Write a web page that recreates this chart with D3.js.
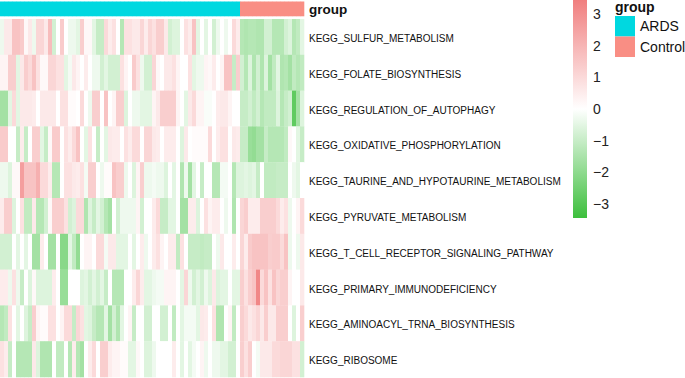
<!DOCTYPE html>
<html>
<head>
<meta charset="utf-8">
<script src="https://cdn.jsdelivr.net/npm/d3@7"></script>
<style>
  body { margin: 0; background: #fff; }
  text { font-family: "Liberation Sans", Arial, sans-serif; }
</style>
</head>
<body>
<svg id="plot" width="685" height="378"></svg>
<script>
// pathways (rows) and their z-scores per sample
var pathways = ["KEGG_SULFUR_METABOLISM", "KEGG_FOLATE_BIOSYNTHESIS", "KEGG_REGULATION_OF_AUTOPHAGY",
  "KEGG_OXIDATIVE_PHOSPHORYLATION", "KEGG_TAURINE_AND_HYPOTAURINE_METABOLISM", "KEGG_PYRUVATE_METABOLISM",
  "KEGG_T_CELL_RECEPTOR_SIGNALING_PATHWAY", "KEGG_PRIMARY_IMMUNODEFICIENCY", "KEGG_AMINOACYL_TRNA_BIOSYNTHESIS",
  "KEGG_RIBOSOME"];

var groupNames = ["ARDS", "Control"];
var groupSizes = [60, 16];
var groupColors = ["#00d8e0", "#f98e84"];

var legendTicks = [-3, -2, -1, 0, 1, 2, 3];

var sulfur = [-0.3,0.6,0.6,1.6,1.6,1.4,0.2,0.6,-0.3,1.1,1.1,0.6,1.8,-0.8,0,1.4,0,-0.3,-0.3,
  -0.5,1.3,0.2,0.2,-0.5,-1.0,-1.0,1.0,0.5,0.8,0,-1.3,0.8,0.8,0.6,0.6,1.1,0.5,1.1,
  0.8,1.3,1.3,0.6,-0.8,-0.6,-0.6,0,0.8,0.5,1.6,-0.5,0,-0.5,0,-0.8,-0.3,0,-0.3,
  0,1.0,0.5,-1.3,-1.4,-1.3,-1.3,-1.4,-1.4,-0.8,-0.8,-1.3,-1.3,-1.3,-0.8,-0.6,-1.3,-1.1,-0.5];
var folate = [0.3,0.3,1.3,1.3,-0.5,0.6,1.3,1.0,1.6,0.8,0.2,0.2,1.1,1.1,0.8,0.8,-0.5,-0.2,0.6,
  0.3,0,0.5,0,-0.3,-0.3,-0.8,-0.5,-0.8,-0.8,-0.8,0.8,0.3,0,1.4,0.8,-0.3,-0.8,-0.8,
  1.1,0.2,0,0.6,0.6,0.8,0.3,0,0,0.8,-0.5,-0.3,-0.3,0.3,0.2,0.5,0,0.3,1.6,
  1.6,-1.0,1.3,-0.8,-1.3,-0.6,-1.4,-0.8,-1.4,-0.6,-1.6,-1.1,-0.5,-1.4,-1.3,-1.6,-1.1,-1.3,-1.1];
var autophagy = [-1.6,-1.6,-0.5,1.0,-0.5,0.6,0.6,0.6,0.5,0,0.6,0.6,0.6,0.6,0,0.8,0.8,0.1,0.1,
  0,1.0,0,-0.3,1.3,1.3,0,1.6,0,0.3,1.3,1.3,-0.6,0,-0.3,-0.3,-0.5,-0.5,-0.5,
  0.3,0.6,1.3,1.3,1.3,1.3,0.3,0,-0.5,0.6,1.0,0.3,0.3,-0.1,-0.1,0,0.5,0.6,0.6,
  0.3,0,0,-1.0,-1.0,-0.8,-1.1,-0.8,-1.3,-1.1,-1.1,-1.1,-0.6,-1.3,-1.0,-0.8,-2.8,-1.6,-0.6];
var oxphos = [1.4,1.4,0,0,-1.0,0.5,-1.0,0,1.3,1.3,-0.5,-1.0,0.2,1.4,1.4,0,0.8,0.5,1.0,
  1.6,0,-0.5,0.8,0,-1.0,0,-0.5,0.6,0.5,0.5,0,0.8,0.5,1.0,1.0,0,1.1,1.1,
  0.6,0.5,0,0.5,0.5,0.5,0,-0.6,0.6,0,0.1,0.1,0.1,0.1,1.0,0,0.5,0.8,0.8,
  0,0.6,0.5,-1.0,-1.0,-1.8,-1.9,-1.6,-1.6,-1.0,-1.3,-1.3,-1.3,-1.3,-1.1,0.2,0,-0.5,-1.0];
var taurine = [-0.3,-0.3,-0.6,0.2,0.2,2.6,1.6,1.6,1.6,2.1,1.0,1.0,0.5,-1.3,-1.3,0,0.8,0.8,0.6,
  0.5,0.8,-0.2,1.3,1.3,0,-0.3,0.1,0.1,1.6,1.3,1.3,-0.3,0,-0.6,0.3,1.3,-0.3,-0.3,
  -0.2,-0.3,-0.3,-0.6,0,-0.5,0,-1.4,-0.3,-1.6,-0.5,0,-1.0,0,0,-1.3,-1.3,-0.2,-0.2,
  0,-1.3,-0.6,-0.6,-0.5,-0.6,-0.5,-1.0,0,-1.1,-1.1,-1.1,-1.0,-1.0,-1.0,0,-0.3,-0.5,0];
var pyruvate = [0.5,1.3,1.3,-0.6,0,0.8,-1.1,-1.1,0.6,-1.3,-1.3,-0.8,0.2,1.3,1.3,1.3,0.8,-0.8,-0.6,
  1.0,1.0,-1.4,-0.6,-1.0,-0.5,-0.8,-1.3,-1.6,0,-0.8,-0.3,-0.3,-0.3,-0.3,0.3,-0.8,0,0,
  0.5,1.0,-1.0,-1.0,-0.5,-0.5,0,-1.6,-1.6,0.5,0.5,-0.6,0,0.8,0.3,0.5,0.5,0,-0.3,
  0,-1.4,0,1.1,1.3,0.5,0.5,0.5,1.3,1.3,1.3,1.3,1.0,0.5,0.8,-0.3,0,0.3,1.0];
var tcell = [-0.8,-0.8,-0.8,0,-0.5,0,-0.5,0,-1.6,-1.6,0.5,0,-1.6,-1.6,0,-2.1,-2.1,-0.5,-1.1,
  -1.9,0,0.3,0.3,0,1.0,1.0,-0.2,0.6,0.6,-0.5,-0.5,-0.5,0,-0.5,0,0.5,-0.3,0,
  0.5,0.8,0.3,0,0.5,0.5,-1.1,0.8,0,-1.0,-1.0,-1.0,-1.1,-1.0,-1.0,0,-0.3,0.6,0,
  0,0.5,0,1.1,0.5,1.4,1.6,1.6,1.6,1.6,1.3,1.4,1.4,1.0,1.6,-0.3,0,-0.3,0.6];
var immuno = [0.5,0.5,-0.3,0.8,-0.3,-1.0,0,-0.6,0.2,-0.6,-0.6,-0.6,-0.6,0.5,0,-1.8,-1.8,0,0,
  0,-0.6,-0.5,-0.8,-0.5,-0.8,-0.5,-1.0,0,-1.3,-1.3,-1.3,0,0,0.5,1.1,0.5,-0.5,-0.5,
  -0.3,-0.2,-0.2,0.3,0.3,0.3,0,-0.5,1.1,-0.3,-0.8,-0.5,-0.8,-0.3,-0.6,0.6,-0.6,-0.5,-0.5,
  0,-0.5,-0.5,1.3,0.8,1.3,1.6,3.2,1.0,1.6,0.8,1.6,1.1,1.3,1.3,0.3,0,0,0.6];
var aminoacyl = [-1.3,-1.1,0.8,0,-0.5,0,-0.6,-1.0,1.3,0.3,0.1,0.1,0.8,0.8,0,0.3,1.0,1.0,-1.0,
  1.1,0.8,-0.5,-0.6,-1.0,-1.3,-1.3,-0.5,-1.6,-0.8,-1.4,-0.5,0,0.3,-1.0,0,0,-0.8,-0.8,
  0,0,-0.8,-0.8,0,-1.1,0,-0.5,-0.2,-0.2,-0.2,-0.5,0.6,0.5,0,0.8,-1.4,-1.4,0,
  0.3,-1.1,0,1.3,1.0,0.6,0.8,1.1,0.6,1.3,0.6,0.6,1.3,1.3,1.3,0,-0.6,0,1.3];
var ribosome = [0.8,0.5,-1.0,0,-1.3,-1.3,-1.3,-1.3,0.6,-0.6,-1.4,-1.4,-1.4,0,-1.1,-1.1,0,-1.3,0.5,
  -1.3,-1.6,0,0.5,1.0,0,1.3,1.3,0.5,0.3,0.3,0.1,0.1,-0.5,-0.5,0.2,0,-0.6,-0.6,
  -0.3,0,0,0,0,0.5,0,-0.5,0,-0.5,-0.2,0,0.3,-0.3,0,-0.3,-0.3,-0.5,-0.5,
  -0.8,-0.8,0,1.3,0.8,1.3,0,-0.2,0.6,0.6,0.6,1.0,1.0,1.1,1.1,1.1,0.8,0.8,-0.8];

var matrix = [sulfur, folate, autophagy, oxphos, taurine, pyruvate, tcell, immuno, aminoacyl, ribosome];

// one group entry per sample column
var samples = [];
groupNames.forEach(function(g, i){
	for (var k = 0; k < groupSizes[i]; k++) samples.push(g);
});

var svg = d3.select("#plot");
var hmLeft = 0, hmRight = 304, hmTop = 19, hmBottom = 377;

var x = d3.scaleBand().domain(d3.range(samples.length)).range([hmLeft, hmRight]);
var y = d3.scaleBand().domain(pathways).range([hmTop, hmBottom]);
var color = d3.scaleLinear().domain([-3.44, 0, 3.44]).range(["#3cbf3c", "#ffffff", "#f07e7e"]);
var groupColor = d3.scaleOrdinal().domain(groupNames).range(groupColors);

// annotation bar
svg.append("g").selectAll("rect").data(samples).join("rect")
	.attr("x", function(d, i){ return x(i); })
	.attr("y", 1.5)
	.attr("width", x.bandwidth() + 0.3)
	.attr("height", 14.8)
	.attr("fill", function(d){ return groupColor(d); });

svg.append("text").attr("x", 309).attr("y", 13.5)
	.attr("font-size", 13.5).attr("font-weight", "bold").attr("fill", "#111").text("group");

// cells
var cells = [];
matrix.forEach(function(row, r){
	row.forEach(function(v, c){ cells.push({r: r, c: c, v: v}); });
});
svg.append("g").selectAll("rect").data(cells).join("rect")
	.attr("x", function(d){ return x(d.c); })
	.attr("y", function(d){ return y(pathways[d.r]); })
	.attr("width", x.bandwidth() + 0.3)
	.attr("height", y.bandwidth() + 0.3)
	.attr("fill", function(d){ return color(d.v); });

// row labels
svg.append("g").selectAll("text").data(pathways).join("text")
	.attr("x", 309)
	.attr("y", function(d){ return y(d) + y.bandwidth() / 2 + 5; })
	.attr("font-size", 10).attr("fill", "#111")
	.text(function(d){ return d; });

// colour bar
var grad = svg.append("defs").append("linearGradient").attr("id", "cbar")
	.attr("x1", 0).attr("y1", 1).attr("x2", 0).attr("y2", 0);
d3.range(0, 1.0001, 0.05).forEach(function(t){
	grad.append("stop").attr("offset", t).attr("stop-color", color(-3.44 + t * 6.88));
});
var cy = d3.scaleLinear().domain([-3.44, 3.44]).range([218, 0]);
svg.append("rect").attr("x", 573).attr("y", cy(3.44)).attr("width", 14)
	.attr("height", cy(-3.44) - cy(3.44)).attr("fill", "url(#cbar)");

var axis = svg.append("g").attr("transform", "translate(589,0)")
	.call(d3.axisRight(cy).tickValues(legendTicks).tickFormat(d3.format("d")).tickSize(0).tickPadding(4));
axis.select(".domain").remove();
axis.selectAll("text").attr("font-size", 14).attr("fill", "#222")
	.style("font-family", "'Liberation Sans', Arial, sans-serif");

// group legend
svg.append("text").attr("x", 615).attr("y", 12)
	.attr("font-size", 14).attr("font-weight", "bold").attr("fill", "#111").text("group");
var lg = svg.append("g").selectAll("g").data(groupNames).join("g")
	.attr("transform", function(d, i){ return "translate(615," + (16 + i * 20.5) + ")"; });
lg.append("rect").attr("width", 20).attr("height", 20.5)
	.attr("fill", function(d){ return groupColor(d); });
lg.append("text").attr("x", 25).attr("y", 15).attr("font-size", 14).attr("fill", "#111")
	.text(function(d){ return d; });
</script>
</body>
</html>
